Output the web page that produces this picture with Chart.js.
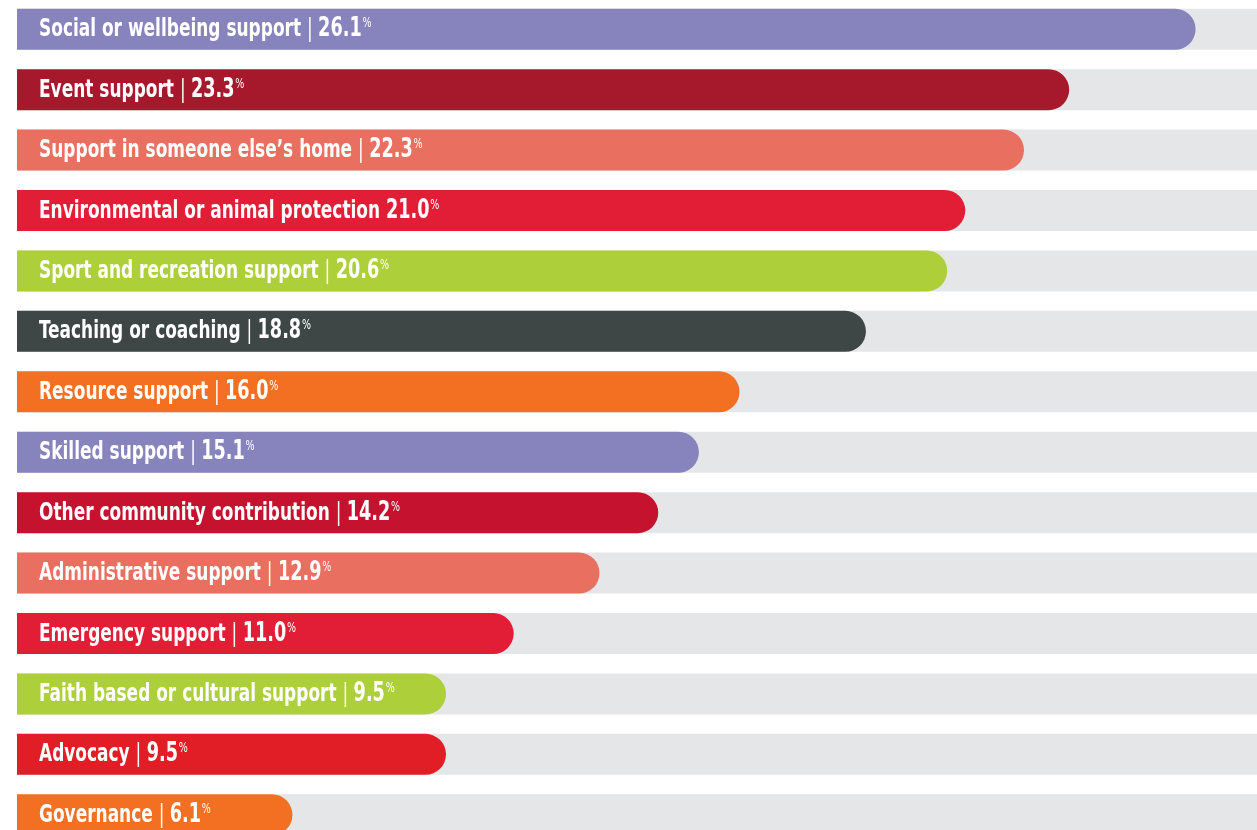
<!DOCTYPE html>
<html>
<head>
<meta charset="utf-8">
<script src="https://cdn.jsdelivr.net/npm/chart.js@4.4.1/dist/chart.umd.min.js"></script>
<style>
  html, body { margin: 0; padding: 0; background: #ffffff; overflow: hidden; }
  #wrap { width: 1257px; height: 846px; margin-top: -1px; }
</style>
</head>
<body>
<div id="wrap"><canvas id="myChart" width="1257" height="846"></canvas></div>
<script>
//categories and share of volunteers (%)
const categories = [
  "Social or wellbeing support",
  "Event support",
  "Support in someone else\u2019s home",
  "Environmental or animal protection",
  "Sport and recreation support",
  "Teaching or coaching",
  "Resource support",
  "Skilled support",
  "Other community contribution",
  "Administrative support",
  "Emergency support",
  "Faith based or cultural support",
  "Advocacy",
  "Governance"
];
const values = [26.1, 23.3, 22.3, 21.0, 20.6, 18.8, 16.0, 15.1, 14.2, 12.9, 11.0, 9.5, 9.5, 6.1];
//separator between name and number (one row has none)
const separators = ["|", "|", "|", "", "|", "|", "|", "|", "|", "|", "|", "|", "|", "|"];
const barColors = [
  "#8683BD", "#A6192C", "#E97060", "#E21E36", "#ADD03A", "#3E4746", "#F37023",
  "#8683BD", "#C4122F", "#E97060", "#E21E36", "#ADD03A", "#E11D25", "#F37023"
];

//grey track behind every bar, runs past the right edge
const axisMax = 27.46;
const track = categories.map(() => 30);

const FONT = "'Liberation Sans Narrow', 'DejaVu Sans Condensed', sans-serif";

//------------------labels written inside the bars--------------
const barLabels = {
  id: "barLabels",
  afterDatasetsDraw(chart) {
    const ctx = chart.ctx;
    const yScale = chart.scales.y;
    const xScale = chart.scales.x;
    const sx = 0.755; //squeeze the condensed font a bit more
    ctx.save();
    ctx.fillStyle = "#ffffff";
    ctx.textBaseline = "alphabetic";
    ctx.textAlign = "left";
    categories.forEach((name, i) => {
      const y = yScale.getPixelForValue(i) + 7;
      const x = xScale.getPixelForValue(0) + 22;
      ctx.save();
      ctx.translate(x, y);
      ctx.scale(sx, 1);
      let cx = 0;
      ctx.font = "bold 25px " + FONT;
      const first = name + " ";
      ctx.fillText(first, cx, 0);
      cx += ctx.measureText(first).width;
      if (separators[i]) {
        ctx.font = "25px " + FONT;
        ctx.fillText(separators[i], cx, 0);
        cx += ctx.measureText(separators[i] + " ").width;
      }
      const num = values[i].toFixed(1);
      ctx.font = "bold 26px " + FONT;
      ctx.fillText(num, cx, 0);
      cx += ctx.measureText(num).width + 1;
      ctx.font = "14px " + FONT;
      ctx.fillText("%", cx, -9);
      ctx.restore();
    });
    ctx.restore();
  }
};

// setup
const data = {
  labels: categories,
  datasets: [
    {
      label: "Share",
      data: values,
      backgroundColor: barColors,
      borderWidth: 0,
      borderRadius: 21,
      borderSkipped: "start",
      order: 1
    },
    {
      label: "Track",
      data: track,
      backgroundColor: "#E5E6E8",
      borderWidth: 0,
      borderRadius: 0,
      order: 2
    }
  ]
};

// config
const config = {
  type: "bar",
  data,
  options: {
    indexAxis: "y",
    responsive: false,
    animation: false,
    grouped: false,
    barPercentage: 41 / 60.43,
    categoryPercentage: 1,
    layout: { padding: { left: 17, right: 0, top: 0, bottom: 0 } },
    plugins: {
      legend: { display: false },
      tooltip: { enabled: false }
    },
    scales: {
      x: { display: false, min: 0, max: axisMax, grid: { display: false } },
      y: { display: false, grid: { display: false } }
    }
  },
  plugins: [barLabels]
};

// render init block
const myChart = new Chart(document.getElementById("myChart"), config);
</script>
</body>
</html>
